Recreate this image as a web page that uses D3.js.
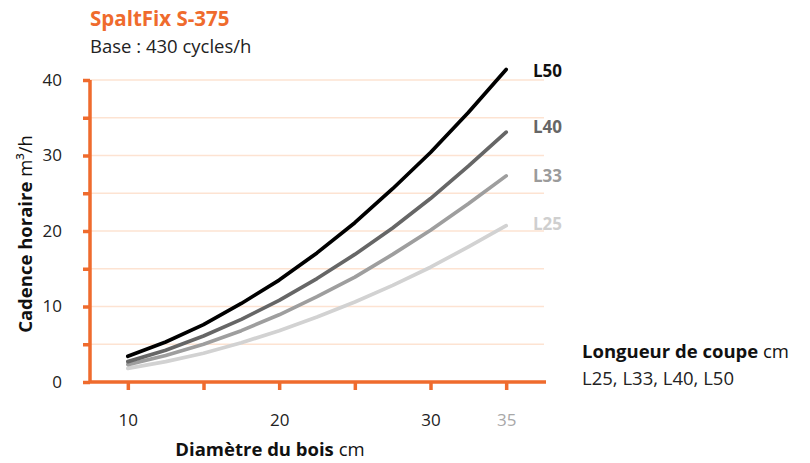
<!DOCTYPE html>
<html>
<head>
<meta charset="utf-8">
<script src="https://cdn.jsdelivr.net/npm/d3@7"></script>
<style>
  body { margin: 0; background: #fff; }
  text { font-family: "Open Sans", "Noto Sans", sans-serif; }
</style>
</head>
<body>
<div id="container"></div>
<script>
/**
 * DATA
 * */
const diameters = [10, 12.5, 15, 17.5, 20, 22.5, 25, 27.5, 30, 32.5, 35];
const seriesNames = ["L25", "L33", "L40", "L50"];
const l25 = [1.8, 2.7, 3.8, 5.2, 6.8, 8.6, 10.6, 12.8, 15.2, 17.9, 20.7];
const l33 = [2.3, 3.5, 5.0, 6.8, 8.9, 11.3, 13.9, 16.9, 20.1, 23.6, 27.3];
const l40 = [2.7, 4.2, 6.1, 8.3, 10.8, 13.7, 16.9, 20.4, 24.3, 28.6, 33.1];
const l50 = [3.4, 5.3, 7.6, 10.4, 13.5, 17.1, 21.1, 25.6, 30.4, 35.7, 41.4];
const xTicks = [10, 15, 20, 25, 30, 35];
const xTickLabels = ["10", "", "20", "", "30", "35"];
const yTicks = [0, 5, 10, 15, 20, 25, 30, 35, 40];
const yTickLabels = ["0", "", "10", "", "20", "", "30", "", "40"];

/**
 * CONSTANTS
 * */
const width = 810,
  height = 463;
const orange = "#ef6b2d";
const lineColors = { L25: "#d2d2d2", L33: "#9e9e9e", L40: "#666666", L50: "#000000" };
const labelColors = { L25: "#cfcfcf", L33: "#9b9b9b", L40: "#666666", L50: "#111111" };
// small manual nudges so labels sit like the original
const labelDy = { L25: 4, L33: 6, L40: 1, L50: 8 };

const values = { L25: l25, L33: l33, L40: l40, L50: l50 };

const svg = d3
  .select("#container")
  .append("svg")
  .attr("width", width)
  .attr("height", height);

const x = d3.scaleLinear().domain([7.5, 37.5]).range([90, 544]);
const y = d3.scaleLinear().domain([0, 40]).range([382, 80]);

// gridlines
svg
  .append("g")
  .selectAll("line")
  .data(yTicks.filter((d) => d > 0))
  .join("line")
  .attr("x1", x(7.5))
  .attr("x2", x(37.5))
  .attr("y1", (d) => y(d))
  .attr("y2", (d) => y(d))
  .attr("stroke", "#fde3d2")
  .attr("stroke-width", 1.5);

// lines
const line = d3
  .line()
  .x((d) => x(d[0]))
  .y((d) => y(d[1]));

svg
  .append("g")
  .selectAll("path")
  .data(seriesNames)
  .join("path")
  .attr("d", (name) => line(diameters.map((dia, i) => [dia, values[name][i]])))
  .attr("fill", "none")
  .attr("stroke", (name) => lineColors[name])
  .attr("stroke-width", 3.7)
  .attr("stroke-linecap", "round")
  .attr("stroke-linejoin", "round");

// series labels
svg
  .append("g")
  .selectAll("text")
  .data(seriesNames)
  .join("text")
  .attr("x", 533)
  .attr("y", (name) => y(values[name][values[name].length - 1]) + labelDy[name])
  .attr("fill", (name) => labelColors[name])
  .attr("font-size", 17)
  .attr("font-weight", 700)
  .text((name) => name);

// y axis
const yAxis = svg
  .append("g")
  .attr("transform", `translate(${x(7.5)},0)`)
  .call(
    d3
      .axisLeft(y)
      .tickValues(yTicks)
      .tickSize(7)
      .tickPadding(21)
      .tickFormat((d, i) => yTickLabels[i])
  );

// x axis
const xAxis = svg
  .append("g")
  .attr("transform", `translate(0,${y(0)})`)
  .call(
    d3
      .axisBottom(x)
      .tickValues(xTicks)
      .tickSize(8)
      .tickPadding(24)
      .tickFormat((d, i) => xTickLabels[i])
  );

[yAxis, xAxis].forEach((g) => {
  g.select(".domain").remove();
  g.selectAll(".tick line").attr("stroke", orange).attr("stroke-width", 3.5);
  g.selectAll(".tick text")
    .attr("fill", "#222")
    .attr("font-size", 17)
    .attr("font-family", '"Open Sans", sans-serif');
});
xAxis
  .selectAll(".tick text")
  .filter((d) => d === 35)
  .attr("fill", "#a8a8a8");

// axis lines drawn on top
svg
  .append("path")
  .attr("d", `M${x(7.5)},${y(40)}V${y(0)}H${x(37.5) + 2}`)
  .attr("fill", "none")
  .attr("stroke", orange)
  .attr("stroke-width", 3.5);

// titles
svg
  .append("text")
  .attr("x", 90)
  .attr("y", 26)
  .attr("fill", orange)
  .attr("font-size", 20.5)
  .attr("font-weight", 700)
  .text("SpaltFix S-375");

svg
  .append("text")
  .attr("x", 90)
  .attr("y", 53)
  .attr("fill", "#222")
  .attr("font-size", 18.5)
  .text("Base : 430 cycles/h");

// y axis title
const yTitle = svg
  .append("text")
  .attr("transform", "translate(32,234) rotate(-90)")
  .attr("text-anchor", "middle")
  .attr("fill", "#111")
  .attr("font-size", 18.5);
yTitle.append("tspan").attr("font-weight", 700).text("Cadence horaire ");
yTitle.append("tspan").text("m³/h");

// x axis title
const xTitle = svg
  .append("text")
  .attr("x", 270)
  .attr("y", 456)
  .attr("text-anchor", "middle")
  .attr("fill", "#111")
  .attr("font-size", 18.5);
xTitle.append("tspan").attr("font-weight", 700).text("Diamètre du bois ");
xTitle.append("tspan").text("cm");

// legend
const legend = svg
  .append("text")
  .attr("x", 582)
  .attr("y", 358)
  .attr("fill", "#111")
  .attr("font-size", 18.5);
legend.append("tspan").attr("font-weight", 700).text("Longueur de coupe ");
legend.append("tspan").text("cm");

svg
  .append("text")
  .attr("x", 582)
  .attr("y", 385)
  .attr("fill", "#222")
  .attr("font-size", 18.5)
  .text(seriesNames.join(", "));
</script>
</body>
</html>
